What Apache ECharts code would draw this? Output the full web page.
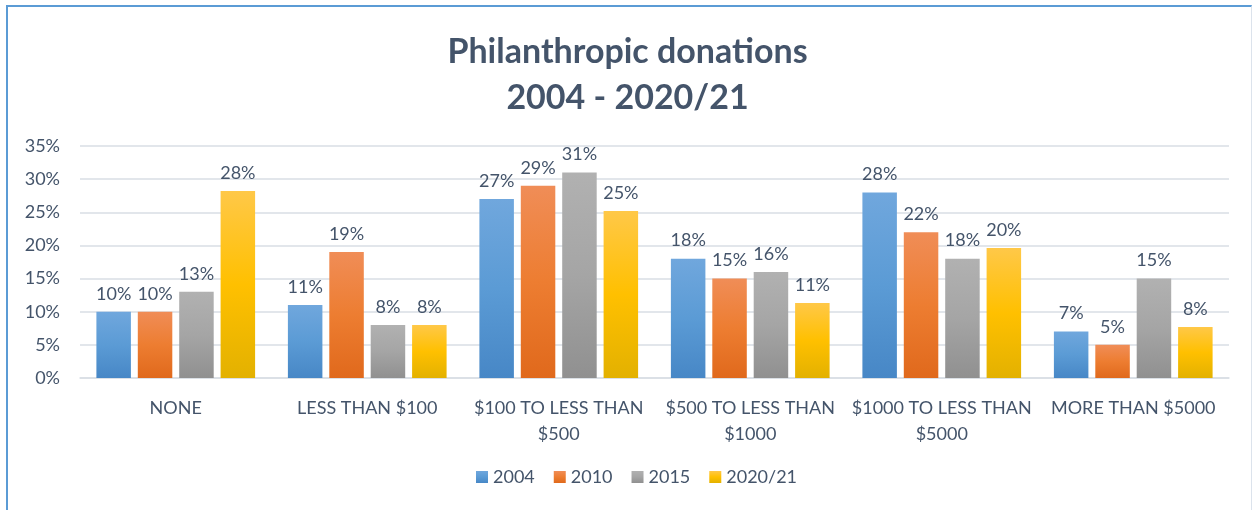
<!DOCTYPE html>
<html><head><meta charset="utf-8">
<script src="https://cdn.jsdelivr.net/npm/echarts@6/dist/echarts.min.js"></script>
<style>
html,body{margin:0;padding:0;background:#fff;overflow:hidden;}
#frame{position:absolute;left:6px;top:5px;width:1246px;height:520px;border-top:2px solid #5B9BD5;border-left:2px solid #5B9BD5;border-right:1px solid #DCE3EC;box-sizing:border-box;}
#c{position:absolute;left:0;top:0;width:1255px;height:510px;}
</style></head>
<body><div id="frame"></div><div id="c"></div>
<script>
const categories = ['NONE', 'LESS THAN $100', '$100 TO LESS THAN\n$500', '$500 TO LESS THAN\n$1000', '$1000 TO LESS THAN\n$5000', 'MORE THAN $5000'];
const seriesNames = ['2004', '2010', '2015', '2020/21'];
const v2004 = [10, 11, 27, 18, 28, 7];
const v2010 = [10, 19, 29, 15, 22, 5];
const v2015 = [13, 8, 31, 16, 18, 15];
const v2021 = [28.2, 8.0, 25.2, 11.3, 19.6, 7.7];
const yTicks = [0, 5, 10, 15, 20, 25, 30, 35];

const values = [v2004, v2010, v2015, v2021];
const gradients = [
  ['#70A7DD', '#5B9BD5', '#4787C6'],
  ['#F08D57', '#ED7D31', '#E0691C'],
  ['#B1B1B1', '#A5A5A5', '#909090'],
  ['#FFC848', '#FFC000', '#E3B100']
];
const textColor = '#44546A';
const font = 'Lato, "Open Sans", sans-serif';
function grad(g){
  return new echarts.graphic.LinearGradient(0,0,0,1,[{offset:0,color:g[0]},{offset:0.5,color:g[1]},{offset:1,color:g[2]}]);
}
const chart = echarts.init(document.getElementById('c'));
chart.setOption({
  backgroundColor: 'transparent',
  animation: false,
  title: {
    text: 'Philanthropic donations\n2004 - 2020/21',
    left: 'center', top: 24,
    textStyle: {fontFamily: font, fontSize: 34, fontWeight: 'bold', color: textColor, lineHeight: 46}
  },
  legend: {
    data: seriesNames,
    top: 463, left: 471,
    itemWidth: 12, itemHeight: 12, itemGap: 19,
    icon: 'rect',
    textStyle: {fontFamily: font, fontSize: 18, color: textColor}
  },
  grid: {left: 80, right: 26, top: 146, bottom: 132, containLabel: false},
  xAxis: {
    type: 'category', data: categories,
    axisLine: {show: true, lineStyle: {color: '#D9DEE5', width: 1.5}},
    axisTick: {show: false},
    axisLabel: {fontFamily: font, fontSize: 18, color: textColor, margin: 17, lineHeight: 26, interval: 0}
  },
  yAxis: {
    type: 'value', min: 0, max: 35, interval: 5,
    axisLine: {show: false}, axisTick: {show: false},
    splitLine: {lineStyle: {color: '#D9DEE5', width: 1.5}},
    axisLabel: {fontFamily: font, fontSize: 18, color: textColor, margin: 20, formatter: v => v + '%'}
  },
  series: seriesNames.map((n, i) => ({
    name: n, type: 'bar', data: values[i],
    barWidth: 34.5, barGap: '20%',
    itemStyle: {color: grad(gradients[i])},
    label: {show: true, position: 'top', distance: 9, fontFamily: font, fontSize: 18, color: textColor,
      formatter: p => Math.round(p.value) + '%'}
  }))
});
</script></body></html>
